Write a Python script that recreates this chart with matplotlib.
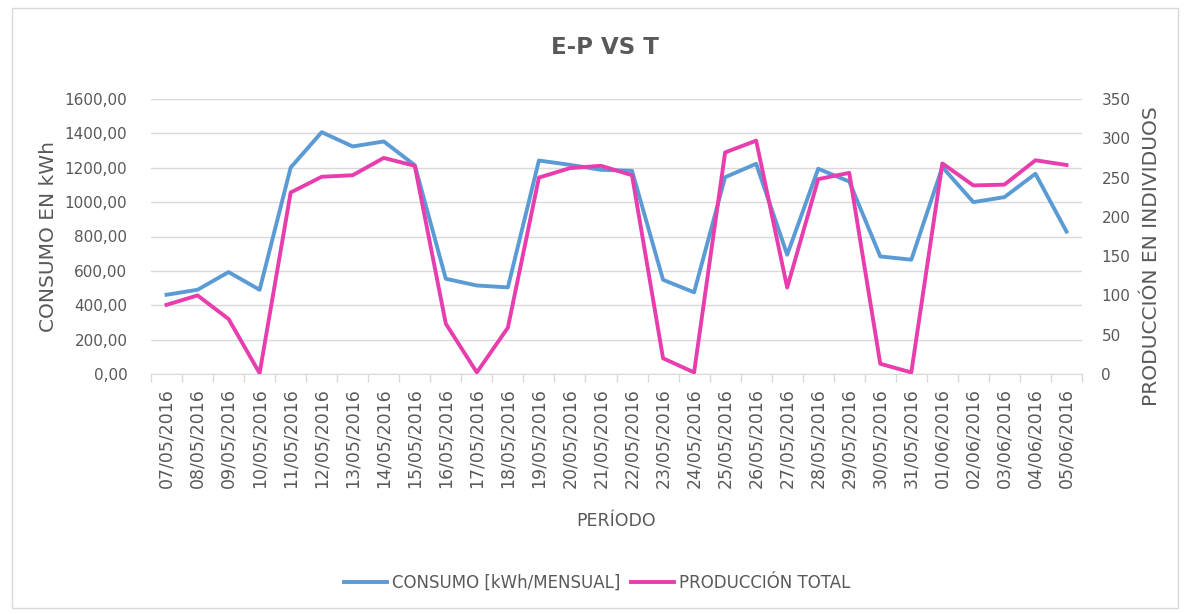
import matplotlib
matplotlib.use("Agg")
import matplotlib.pyplot as plt
from matplotlib.patches import Rectangle
import numpy as np

dates = ["07/05/2016", "08/05/2016", "09/05/2016", "10/05/2016", "11/05/2016",
         "12/05/2016", "13/05/2016", "14/05/2016", "15/05/2016", "16/05/2016",
         "17/05/2016", "18/05/2016", "19/05/2016", "20/05/2016", "21/05/2016",
         "22/05/2016", "23/05/2016", "24/05/2016", "25/05/2016", "26/05/2016",
         "27/05/2016", "28/05/2016", "29/05/2016", "30/05/2016", "31/05/2016",
         "01/06/2016", "02/06/2016", "03/06/2016", "04/06/2016", "05/06/2016"]

consumo = [461, 490, 593, 490, 1201, 1407, 1324, 1353, 1215, 554,
           515, 504, 1242, 1217, 1188, 1182, 548, 475, 1145, 1223,
           694, 1194, 1120, 684, 665, 1204, 1000, 1029, 1165, 829]

produccion = [88, 100, 70, 1, 231, 251, 253, 275, 265, 64,
              2, 59, 250, 262, 265, 253, 20, 2, 282, 297,
              110, 248, 256, 13, 2, 268, 240, 241, 272, 266]

left_ticks = [0, 200, 400, 600, 800, 1000, 1200, 1400, 1600]
right_ticks = [0, 50, 100, 150, 200, 250, 300, 350]

BLUE = "#5B9BD5"
PINK = "#E83DAD"
GRAY = "#595959"
GRID = "#D9D9D9"

W, H = 1191, 614
fig = plt.figure(figsize=(W / 100, H / 100), dpi=100)
fig.patches.append(Rectangle((12 / W, 6 / H), 1166 / W, 600 / H, transform=fig.transFigure,
                             fill=False, edgecolor="#D9D9D9", linewidth=1))

ax = fig.add_axes([151 / W, 1 - 374 / H, (1082 - 151) / W, (374 - 99) / H])
ax2 = ax.twinx()

x = np.arange(len(dates))
l1, = ax.plot(x, consumo, color=BLUE, linewidth=2.8, solid_joinstyle="round",
              label="CONSUMO [kWh/MENSUAL]")
l2, = ax2.plot(x, produccion, color=PINK, linewidth=2.8, solid_joinstyle="round",
               label="PRODUCCIÓN TOTAL")

ax.set_xlim(-0.5, len(dates) - 0.5)
ax.set_ylim(0, 1600)
ax2.set_ylim(0, 350)
ax.set_yticks(left_ticks)
ax.set_yticklabels([f"{v:.2f}".replace(".", ",") for v in left_ticks])
ax2.set_yticks(right_ticks)
ax2.set_yticklabels([str(v) for v in right_ticks])

ax.set_xticks(x)
ax.set_xticklabels(dates, rotation=90, fontsize=12.5, color=GRAY)
ax.set_xticks(np.arange(-0.5, len(dates), 1), minor=True)
ax.tick_params(axis="x", which="major", length=0, pad=10)
ax.tick_params(axis="x", which="minor", length=6, color=GRID, width=1)
ax.tick_params(axis="y", length=0, labelsize=11, labelcolor=GRAY, pad=17)
ax2.tick_params(axis="y", length=0, labelsize=11, labelcolor=GRAY, pad=14)

ax.grid(axis="y", color=GRID, linewidth=1)
ax.set_axisbelow(True)
for a in (ax, ax2):
    for s in ("top", "left", "right"):
        a.spines[s].set_visible(False)
    a.spines["bottom"].set_color(GRID)
ax2.spines["bottom"].set_visible(False)

ax.set_ylabel("CONSUMO EN kWh", fontsize=14.5, color=GRAY)
ax.yaxis.set_label_coords((58 - 151) / 931, (374 - 237) / 275)
ax2.set_ylabel("PRODUCCIÓN EN INDIVIDUOS", fontsize=14.5, color=GRAY)
ax2.yaxis.set_label_coords((1142 - 151) / 931, (374 - 256) / 275)
ax.set_xlabel("PERÍODO", fontsize=12.5, color=GRAY, labelpad=17)

fig.text(605 / W, 1 - 48 / H, "E-P VS T", ha="center", va="center",
         fontsize=16.5, fontweight="bold", color=GRAY)

fig.legend(handles=[l1, l2], loc="center", bbox_to_anchor=(597 / W, 1 - 583 / H),
           ncol=2, frameon=False, fontsize=12, labelcolor=GRAY, handlelength=2.6,
           columnspacing=0.6, handletextpad=0.3)

fig.savefig("out.png", dpi=100)
